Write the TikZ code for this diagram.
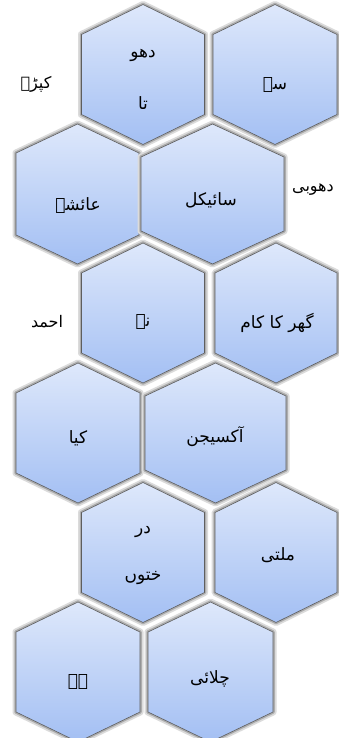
\documentclass[tikz,border=0pt]{standalone}
\usepackage{fontspec}
\TeXXeTstate=1
\newfontfamily\urdu[Script=Arabic]{DejaVu Sans}
\definecolor{hexTop}{HTML}{DEE8FB}
\definecolor{hexBot}{HTML}{A3BFF3}
\definecolor{hexLine}{HTML}{5E5E5E}
\tikzset{
  hexbox/.style={draw=hexLine, line width=0.6pt, top color=hexTop, bottom color=hexBot,
    preaction={draw=black!14, line width=7pt, line join=round},
    preaction={draw=black!32, line width=3.5pt, line join=round}},
  urdutext/.style={font=\urdu\fontsize{17}{20}\selectfont, inner sep=1pt},
  sidetext/.style={font=\urdu\fontsize{16}{19}\selectfont, inner sep=1pt}
}
\newcommand\hexcell[4]{%
  \path[hexbox] (#1,#2-70) -- (#1+#3,#2-70+#4) -- (#1+#3,#2+70-#4) -- (#1,#2+70)
    -- (#1-#3,#2+70-#4) -- (#1-#3,#2-70+#4) -- cycle;}
\newcommand\ur[1]{\beginR #1\endR}
\begin{document}
\begin{tikzpicture}[x=1pt,y=-1pt]
\useasboundingbox[fill=white] (0,0) rectangle (338,738);
% hexagons
\hexcell{143}{74.5}{61.5}{30}
\hexcell{275}{74.5}{62}{30}
\hexcell{77.5}{194}{61.5}{29}
\hexcell{212.5}{194}{71.5}{33}
\hexcell{143}{313}{61.5}{30}
\hexcell{276}{313}{61}{30}
\hexcell{78}{433}{62}{30}
\hexcell{215.5}{433}{70.5}{33}
\hexcell{143}{552.5}{61.5}{30}
\hexcell{276}{552.5}{61}{30}
\hexcell{78}{672}{62}{30}
\hexcell{210.5}{672}{62.5}{30}
% texts in hexagons
\node[urdutext] (a1) at (143,55) {\ur{دھو}};
\node[urdutext] (a2) at (143,103) {\ur{تا}};
\node[urdutext] (b) at (275,85) {\ur{سے}};
\node[urdutext] (c) at (78,206) {\ur{عائشہ}};
\node[urdutext] (d) at (211,200) {\ur{سائیکل}};
\node[urdutext] (e) at (143,322) {\ur{نے}};
\node[urdutext] (f) at (277,323) {\ur{گھر کا کام}};
\node[urdutext] (g) at (78,438) {\ur{کیا}};
\node[urdutext] (h) at (215,437) {\ur{آکسیجن}};
\node[urdutext] (i1) at (143,532) {\ur{در}};
\node[urdutext] (i2) at (143,578) {\ur{ختوں}};
\node[urdutext] (j) at (278,555) {\ur{ملتی}};
\node[urdutext] (k) at (78,682) {\ur{ہے}};
\node[urdutext] (l) at (210,679) {\ur{چلائی}};
% side labels
\node[sidetext] (s1) at (36,84) {\ur{کپڑے}};
\node[sidetext] (s2) at (313,190) {\ur{دھوبی}};
\node[sidetext] (s3) at (47,322) {\ur{احمد}};
\end{tikzpicture}
\end{document}
